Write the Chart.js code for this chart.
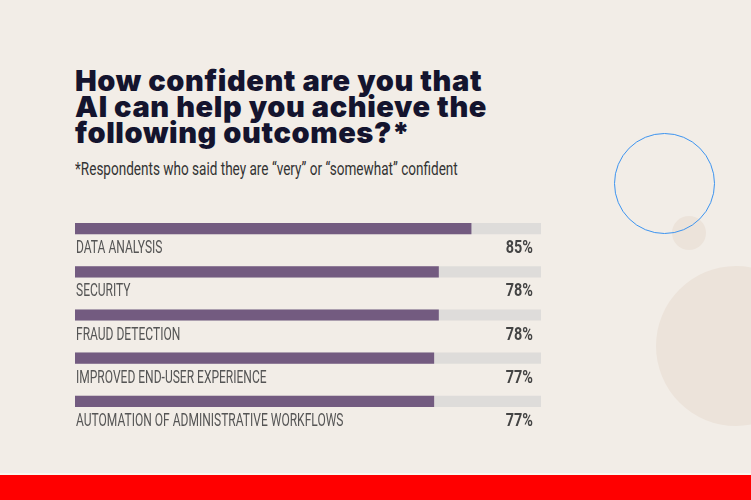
<!DOCTYPE html>
<html>
<head>
<meta charset="utf-8">
<script src="https://cdn.jsdelivr.net/npm/chart.js@4/dist/chart.umd.min.js"></script>
<style>
  html, body { margin:0; padding:0; }
  body { width:751px; height:500px; background:#f2ede7; position:relative; overflow:hidden; font-family:"Roboto",sans-serif; }
  .circ { position:absolute; border-radius:50%; }
  #c1 { left:614px; top:133px; width:101px; height:101px; border:1.7px solid #3d94f0; box-sizing:border-box; }
  #c2 { left:672px; top:216px; width:34px; height:34px; background:#ece3da; }
  #c3 { left:656px; top:266px; width:160px; height:160px; background:#ece3da; }
  #redbar { position:absolute; left:0; top:475px; width:751px; height:25px; background:#ff0000; }
  #redline { position:absolute; left:0; top:473px; width:751px; height:2px; background:#faf6ee; }
  h1 { position:absolute; left:75px; top:68px; margin:0; font-family:"Inter",sans-serif; font-weight:900; font-size:29px; line-height:26px; color:#14142e; letter-spacing:0.6px; }
  #sub { position:absolute; left:75px; top:158px; margin:0; font-family:"Roboto",sans-serif; font-size:18px; color:#333; transform:scaleX(0.753); transform-origin:left top; white-space:nowrap; }
  canvas { position:absolute; left:0; top:0; }
</style>
</head>
<body>
<div class="circ" id="c3"></div>
<div class="circ" id="c2"></div>
<div class="circ" id="c1"></div>
<h1>How confident are you that<br>AI can help you achieve the<br>following outcomes?*</h1>
<p id="sub">*Respondents who said they are “very” or “somewhat” confident</p>
<div id="redline"></div>
<div id="redbar"></div>
<canvas id="chart" width="751" height="500"></canvas>
<script>
const categories = ["DATA ANALYSIS", "SECURITY", "FRAUD DETECTION", "IMPROVED END-USER EXPERIENCE", "AUTOMATION OF ADMINISTRATIVE WORKFLOWS"];
const values = [85, 78, 78, 77, 77];
const trackValues = [100, 100, 100, 100, 100];
const valueLabels = ["85%", "78%", "78%", "77%", "77%"];

const SX_LABEL = 0.668;
const SX_VALUE = 0.8;
const labelPlugin = {
  id: 'labelPlugin',
  afterDatasetsDraw(chart) {
    const ctx = chart.ctx;
    const y = chart.scales.y;
    const area = chart.chartArea;
    categories.forEach((cat, i) => {
      const yc = y.getPixelForValue(i) + 20;
      ctx.save();
      ctx.textBaseline = 'middle';
      ctx.scale(SX_LABEL, 1);
      ctx.fillStyle = '#555';
      ctx.font = '18px Roboto, sans-serif';
      ctx.textAlign = 'left';
      ctx.fillText(cat, (area.left + 1) / SX_LABEL, yc);
      ctx.restore();
      ctx.save();
      ctx.textBaseline = 'middle';
      ctx.scale(SX_VALUE, 1);
      ctx.fillStyle = '#444';
      ctx.font = 'bold 18px Roboto, sans-serif';
      ctx.textAlign = 'right';
      ctx.fillText(valueLabels[i], (area.right - 8) / SX_VALUE, yc);
      ctx.restore();
    });
  }
};

new Chart(document.getElementById('chart'), {
  type: 'bar',
  data: {
    labels: categories,
    datasets: [
      { data: values, backgroundColor: '#735b80', barThickness: 10.5, grouped: false, order: 0 },
      { data: trackValues, backgroundColor: '#dedcda', barThickness: 10.5, grouped: false, order: 1 }
    ]
  },
  options: {
    indexAxis: 'y',
    responsive: false,
    animation: false,
    layout: { padding: { left: 75, right: 210, top: 207, bottom: 77 } },
    plugins: { legend: { display: false }, tooltip: { enabled: false } },
    scales: {
      x: { display: false, min: 0, max: 100 },
      y: { display: false }
    }
  },
  plugins: [labelPlugin]
});
</script>
</body>
</html>
